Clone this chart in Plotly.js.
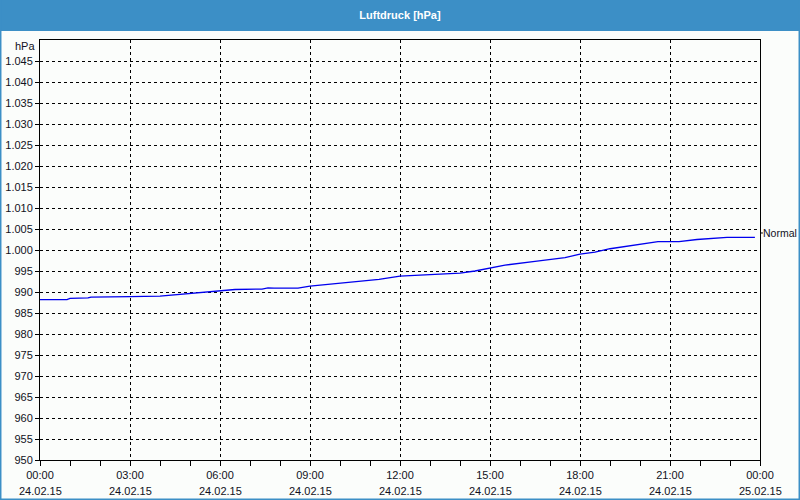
<!DOCTYPE html>
<html>
<head>
<meta charset="utf-8">
<script src="https://cdn.plot.ly/plotly-3.0.1.min.js"></script>
<style>
html,body{margin:0;padding:0;background:#fbfdfb;}
#chart{width:800px;height:500px;}
</style>
</head>
<body>
<div id="chart"></div>
<script>
// Data (hours since 24.02.15 00:00, pressure in hPa)
const hours = [0.0, 0.9, 1.0, 1.6, 1.7, 2.9, 3.0, 4.0, 4.5, 5.0, 5.5, 6.0, 6.5, 7.4, 7.6, 7.8, 8.6, 9.0, 9.8, 10.5, 11.3, 12.0, 13.0, 14.0, 14.5, 15.0, 15.5, 16.5, 17.5, 18.0, 18.5, 19.0, 19.5, 20.0, 20.6, 21.3, 21.9, 22.9, 23.83];
const pressure = [988.2, 988.2, 988.5, 988.6, 988.8, 988.8, 988.9, 989.0, 989.3, 989.6, 989.9, 990.2, 990.6, 990.7, 991.0, 990.9, 990.9, 991.4, 992.0, 992.5, 993.0, 993.8, 994.2, 994.5, 995.0, 995.7, 996.4, 997.3, 998.2, 999.0, 999.5, 1000.3, 1000.8, 1001.4, 1002.0, 1002.0, 1002.5, 1003.0, 1003.0];
const seriesName = "Normal";

const xTickVals = [0, 3, 6, 9, 12, 15, 18, 21, 24];
const xTimeLabels = ["00:00", "03:00", "06:00", "09:00", "12:00", "15:00", "18:00", "21:00", "00:00"];
const xDateLabels = ["24.02.15", "24.02.15", "24.02.15", "24.02.15", "24.02.15", "24.02.15", "24.02.15", "24.02.15", "25.02.15"];

const yTickVals = [950, 955, 960, 965, 970, 975, 980, 985, 990, 995, 1000, 1005, 1010, 1015, 1020, 1025, 1030, 1035, 1040, 1045];
const yTickLabels = ["950", "955", "960", "965", "970", "975", "980", "985", "990", "995", "1.000", "1.005", "1.010", "1.015", "1.020", "1.025", "1.030", "1.035", "1.040", "1.045"];

const chartTitle = "Luftdruck [hPa]";
const yUnit = "hPa";

const FONT = "'Liberation Sans', Arial, sans-serif";
const TXT = "#111122";
const BLUE_FRAME = "#3c8fc6";

const trace = {
  x: hours, y: pressure, type: "scatter", mode: "lines", name: seriesName,
  line: {color: "#0000ee", width: 1.3}, hoverinfo: "skip"
};

const dateAnns = xTickVals.map((v, i) => ({
  x: v, xref: "x", y: -0.0738, yref: "paper", text: xDateLabels[i],
  showarrow: false, xanchor: "center", yanchor: "middle",
  font: {family: FONT, size: 11, color: TXT}
}));

const legendY = 0.5405;

const layout = {
  width: 800, height: 500,
  margin: {l: 40, r: 40, t: 40, b: 40, pad: 0},
  paper_bgcolor: "#fbfdfb", plot_bgcolor: "#fbfdfb",
  showlegend: false,
  title: {text: "<b>" + chartTitle + "</b>", font: {family: FONT, size: 11, color: "#ffffff"},
          x: 0.5, xanchor: "center", y: 0.969, yanchor: "middle", yref: "container"},
  xaxis: {
    range: [0, 24], tickvals: xTickVals, ticktext: xTimeLabels,
    showgrid: true, gridcolor: "#000000", gridwidth: 1, griddash: "3px,3px",
    showline: true, linecolor: "#000000", linewidth: 1, mirror: true,
    ticks: "outside", ticklen: 5, tickcolor: "#000000", tickwidth: 1,
    minor: {dtick: 1, tick0: 0, ticks: "outside", ticklen: 5, tickcolor: "#000000", showgrid: false},
    zeroline: false, tickfont: {family: FONT, size: 11, color: TXT}
  },
  yaxis: {
    range: [950, 1050], tickvals: yTickVals, ticktext: yTickLabels,
    showgrid: true, gridcolor: "#000000", gridwidth: 1, griddash: "3px,3px",
    showline: true, linecolor: "#000000", linewidth: 1, mirror: true,
    ticks: "outside", ticklen: 4, tickcolor: "#000000", tickwidth: 1,
    zeroline: false, tickfont: {family: FONT, size: 11, color: TXT}
  },
  shapes: [
    {type: "rect", xref: "paper", yref: "paper", x0: -0.06, x1: 1.06, y0: 1.0214, y1: 1.1, fillcolor: BLUE_FRAME, line: {width: 0}, layer: "below"},
    {type: "rect", xref: "paper", yref: "paper", x0: -0.06, x1: -0.0535, y0: -0.1, y1: 1.1, fillcolor: BLUE_FRAME, line: {width: 0}, layer: "below"},
    {type: "rect", xref: "paper", yref: "paper", x0: 1.0535, x1: 1.06, y0: -0.1, y1: 1.1, fillcolor: BLUE_FRAME, line: {width: 0}, layer: "below"},
    {type: "rect", xref: "paper", yref: "paper", x0: -0.06, x1: 1.06, y0: -0.1, y1: -0.0917, fillcolor: BLUE_FRAME, line: {width: 0}, layer: "below"},
    {type: "line", xref: "paper", yref: "paper", x0: 1.0, x1: 1.004, y0: legendY, y1: legendY, line: {color: "#000000", width: 1}}
  ],
  annotations: [
    {x: 0, xref: "paper", xshift: -3, y: 0.9857, yref: "paper", text: yUnit, showarrow: false,
     xanchor: "right", yanchor: "middle", font: {family: FONT, size: 11, color: TXT}},
    {x: 1, xref: "paper", xshift: 1, y: legendY, yref: "paper", text: seriesName, showarrow: false,
     xanchor: "left", yanchor: "middle", font: {family: FONT, size: 10.5, color: TXT}}
  ].concat(dateAnns)
};

Plotly.newPlot("chart", [trace], layout, {staticPlot: true, displayModeBar: false});
</script>
</body>
</html>
